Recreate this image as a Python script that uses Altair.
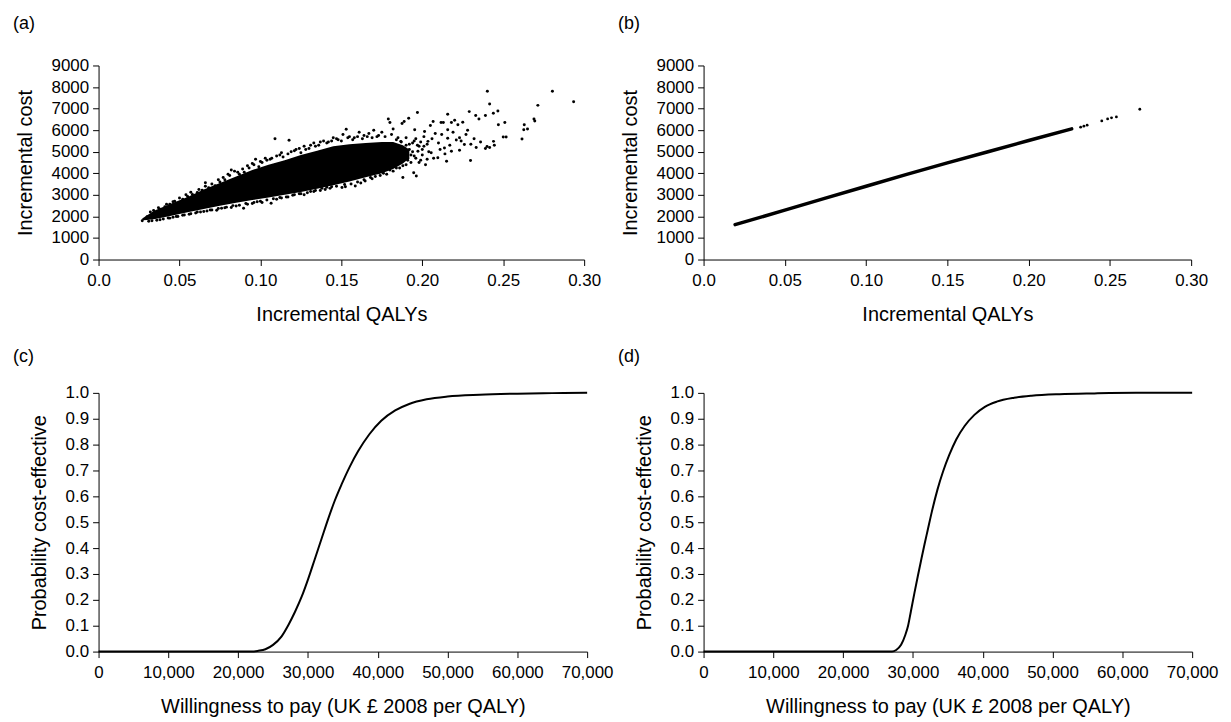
import altair as alt
import pandas as pd

FONT = "Liberation Sans"

# ---------------- Panel (a): probabilistic scatter ----------------
# Solid dense core of the cloud (lower / upper edge at given QALY values)
a_core_x = [0.027, 0.030, 0.035, 0.045, 0.055, 0.065, 0.075, 0.085, 0.095, 0.105,
            0.115, 0.125, 0.135, 0.145, 0.155, 0.165, 0.175, 0.182, 0.188, 0.192]
a_core_lo = [1820, 1830, 1880, 2030, 2190, 2340, 2490, 2630, 2760, 2880,
             3000, 3130, 3280, 3450, 3620, 3820, 4000, 4200, 4450, 4700]
a_core_hi = [1900, 2050, 2280, 2600, 2900, 3250, 3550, 3850, 4150, 4400,
             4600, 4850, 5050, 5250, 5350, 5400, 5450, 5450, 5300, 5100]

# Scattered simulations around the edges and in the sparse tail
a_pts_x = [
    # upper fringe
    0.030, 0.034, 0.038, 0.041, 0.044, 0.047, 0.052, 0.055, 0.058, 0.061, 0.064, 0.066,
    0.068, 0.072, 0.075, 0.078, 0.080, 0.082, 0.084, 0.087, 0.090, 0.093, 0.095, 0.097,
    0.099, 0.101, 0.104, 0.107, 0.109, 0.112, 0.114, 0.1177, 0.119, 0.122, 0.125, 0.127,
    0.130, 0.133, 0.136, 0.139, 0.142, 0.145, 0.148, 0.151, 0.153, 0.155, 0.158, 0.161,
    0.164, 0.167, 0.170, 0.172, 0.175, 0.179, 0.180, 0.182, 0.1875, 0.1888, 0.1916, 0.1953,
    0.197,
    0.032, 0.037, 0.042, 0.046, 0.050, 0.054, 0.057, 0.062, 0.066, 0.070, 0.074, 0.077,
    0.081, 0.086, 0.089, 0.092, 0.096, 0.100, 0.103, 0.106, 0.110, 0.113, 0.117, 0.121,
    0.124, 0.128, 0.131, 0.134, 0.137, 0.141, 0.144, 0.147, 0.150, 0.154, 0.157, 0.160,
    0.163, 0.166, 0.169, 0.173, 0.177, 0.181, 0.185,
    # lower fringe
    0.027, 0.031, 0.036, 0.040, 0.043, 0.046, 0.049, 0.053, 0.057, 0.060, 0.063, 0.067,
    0.070, 0.073, 0.076, 0.079, 0.082, 0.085, 0.0896, 0.092, 0.095, 0.098, 0.101, 0.1066,
    0.110, 0.113, 0.117, 0.120, 0.124, 0.127, 0.131, 0.134, 0.138, 0.141, 0.144, 0.1504,
    0.1525, 0.1586, 0.162, 0.1647, 0.168, 0.171, 0.173, 0.176, 0.180, 0.184, 0.188, 0.1947,
    0.1963,
    0.033, 0.038, 0.044, 0.048, 0.052, 0.056, 0.061, 0.065, 0.069, 0.074, 0.078, 0.083,
    0.087, 0.091, 0.096, 0.100, 0.104, 0.108, 0.112, 0.116, 0.121, 0.125, 0.129, 0.133,
    0.137, 0.140, 0.143, 0.147, 0.152, 0.156, 0.160, 0.164, 0.169, 0.174, 0.178, 0.182,
    0.186, 0.190,
    # diffuse right end of the cloud
    0.183, 0.184, 0.185, 0.186, 0.187, 0.188, 0.189, 0.190, 0.191, 0.192, 0.193, 0.194,
    0.195, 0.196, 0.197, 0.198, 0.199, 0.200, 0.201, 0.203,
    # sparse tail
    0.2402, 0.2804, 0.2935, 0.2416, 0.2714, 0.2467, 0.2439, 0.229, 0.2157, 0.233, 0.235, 0.239,
    0.269, 0.2695, 0.263, 0.265, 0.2627, 0.251, 0.247, 0.2616, 0.250, 0.2518, 0.244, 0.2445,
    0.240, 0.239, 0.2416, 0.2298, 0.2333, 0.226, 0.223, 0.221, 0.223, 0.218, 0.220, 0.222,
    0.225, 0.228, 0.2116, 0.213, 0.2067, 0.205, 0.2157, 0.2157, 0.2137, 0.218, 0.2096, 0.215,
    0.2055, 0.1867, 0.2014, 0.2035, 0.1973,
    0.186, 0.188, 0.190, 0.191, 0.192, 0.193, 0.194, 0.195, 0.196, 0.198, 0.199, 0.200,
    0.201, 0.202, 0.203, 0.204, 0.206, 0.207, 0.208, 0.210, 0.211, 0.212, 0.214, 0.217,
    0.219, 0.224, 0.227, 0.230, 0.232, 0.236,
]
a_pts_y = [
    1980, 2270, 2330, 2450, 2560, 2700, 2800, 2920, 3020, 3110, 3210, 3560,
    3330, 3420, 3600, 3700, 3950, 4150, 4100, 3950, 4050, 4250, 4450, 4650,
    4300, 4500, 4600, 4700, 5600, 4850, 4750, 5530, 5000, 5100, 4950, 5250,
    5150, 5400, 5300, 5500, 5450, 5650, 5550, 5800, 6040, 5700, 5650, 5900,
    5750, 5850, 6000, 5700, 5900, 6520, 6355, 6050, 6310, 6400, 6550, 6020,
    6815,
    2200, 2400, 2560, 2680, 2850, 3000, 3120, 3250, 3400, 3500, 3700, 3800,
    3900, 4050, 4200, 4350, 4400, 4550, 4700, 4650, 4800, 4950, 4900, 5050,
    5150, 5100, 5300, 5250, 5450, 5400, 5500, 5600, 5500, 5650, 5550, 5700,
    5600, 5700, 5650, 5750, 5700, 5800, 5650,
    1800, 1780, 1820, 1880, 1930, 1960, 2000, 2060, 2120, 2160, 2200, 2250,
    2300, 2290, 2380, 2430, 2410, 2480, 2380, 2560, 2600, 2680, 2650, 2610,
    2800, 2850, 2900, 2980, 3050, 3000, 3150, 3200, 3300, 3350, 3380, 3340,
    3370, 3415, 3550, 3645, 3800, 3850, 4030, 4000, 4150, 4250, 3800, 4030,
    3870,
    1800, 1850, 1920, 2000, 2050, 2100, 2200, 2230, 2300, 2370, 2400, 2500,
    2520, 2600, 2650, 2700, 2760, 2820, 2880, 2900, 3000, 3050, 3100, 3150,
    3200, 3250, 3300, 3400, 3480, 3500, 3600, 3700, 3750, 3900, 3950, 4100,
    4250, 4400,
    4900, 5550, 4500, 5150, 5450, 4350, 4950, 5650, 4600, 5350, 4850, 5000,
    5500, 4700, 5300, 4500, 5450, 4850, 5250, 4650,
    7810, 7810, 7320, 7213, 7150, 6890, 6784, 6860, 6738, 6680, 6520, 6680,
    6520, 6430, 6250, 6050, 6020, 6355, 6250, 5590, 5680, 5680, 5480, 5300,
    5240, 5150, 5200, 4590, 5200, 5330, 5070, 5540, 5650, 6355, 6460, 6250,
    6370, 6000, 6355, 6355, 6400, 6220, 6020, 5630, 5175, 5020, 4720, 4560,
    4950, 5480, 5940, 5480, 5020,
    5200, 5000, 5300, 4700, 5100, 4500, 5400, 4800, 5600, 5250, 4600, 5100,
    5700, 4400, 5350, 5000, 5600, 4700, 5850, 5400, 5100, 5800, 4900, 5300,
    5900, 5500, 5800, 5350, 5600, 5450,
]

# ---------------- Panel (b): deterministic-parameter scatter ----------------
b_line_x = [0.0194, 0.030, 0.050, 0.075, 0.100, 0.125, 0.150, 0.175, 0.200, 0.2265]
b_line_y = [1620, 1850, 2290, 2850, 3400, 3950, 4480, 5000, 5520, 6060]
b_pts_x = [0.232, 0.234, 0.236, 0.245, 0.2486, 0.251, 0.254, 0.2684]
b_pts_y = [6138, 6185, 6230, 6430, 6523, 6570, 6615, 6970]

# ---------------- Panels (c) and (d): acceptability curves ----------------
c_wtp = [0, 22000, 22900, 23900, 25000, 26200, 27200, 28150, 29100, 30050, 31000,
         31950, 32900, 33850, 34800, 36000, 37200, 38800, 40500, 42500, 44500,
         47000, 50000, 54600, 60000, 65000, 70000]
c_prob = [0, 0, 0.003, 0.009, 0.026, 0.058, 0.103, 0.154, 0.212, 0.282, 0.359,
          0.436, 0.513, 0.584, 0.645, 0.715, 0.775, 0.840, 0.892, 0.932, 0.957,
          0.975, 0.986, 0.993, 0.997, 0.999, 1.0]
d_wtp = [0, 27000, 27600, 28300, 28900, 29300, 29700, 30200, 30700, 31200, 31650,
         32100, 32700, 33500, 34300, 35200, 36200, 37400, 38800, 40300, 42000,
         44500, 47000, 51000, 56000, 62000, 70000]
d_prob = [0, 0, 0.006, 0.026, 0.064, 0.100, 0.155, 0.225, 0.292, 0.357, 0.414,
          0.468, 0.540, 0.625, 0.695, 0.760, 0.820, 0.872, 0.915, 0.946, 0.966,
          0.981, 0.989, 0.995, 0.998, 1.0, 1.0]

qaly_ticks = [0, 0.05, 0.10, 0.15, 0.20, 0.25, 0.30]
cost_ticks = [0, 1000, 2000, 3000, 4000, 5000, 6000, 7000, 8000, 9000]
wtp_ticks = [0, 10000, 20000, 30000, 40000, 50000, 60000, 70000]
prob_ticks = [0, 0.1, 0.2, 0.3, 0.4, 0.5, 0.6, 0.7, 0.8, 0.9, 1.0]

LBL = 17
TTL = 20


def panel_title(t, off):
    return alt.TitleParams(t, anchor="start", frame="group", dx=-86, offset=off,
                           font=FONT, fontSize=18, fontWeight="normal", color="black")


def x_qaly():
    return alt.X("x:Q", scale=alt.Scale(domain=[0, 0.30], nice=False, zero=False),
                 axis=alt.Axis(values=qaly_ticks, title="Incremental QALYs", labelPadding=7,
                               labelExpr="datum.value == 0 ? '0.0' : format(datum.value, '.2f')"))


def y_cost():
    return alt.Y("y:Q", scale=alt.Scale(domain=[0, 9000], nice=False),
                 axis=alt.Axis(values=cost_ticks, format="d", title="Incremental cost"))


# Panel (a)
a_core = pd.DataFrame({"x": a_core_x, "lo": a_core_lo, "y": a_core_hi})
a_pts = pd.DataFrame({"x": a_pts_x, "y": a_pts_y})
pa = alt.layer(
    alt.Chart(a_core).mark_area(color="black", interpolate="linear").encode(
        x=x_qaly(), y=y_cost(), y2="lo:Q"),
    alt.Chart(a_pts).mark_circle(color="black", size=9, opacity=1).encode(
        x=x_qaly(), y=y_cost()),
).properties(width=488, height=195, title=panel_title("(a)", 24))

# Panel (b)
b_line = pd.DataFrame({"x": b_line_x, "y": b_line_y})
b_pts = pd.DataFrame({"x": b_pts_x, "y": b_pts_y})
pb = alt.layer(
    alt.Chart(b_line).mark_line(color="black", strokeWidth=3.5, strokeCap="round").encode(
        x=x_qaly(), y=y_cost()),
    alt.Chart(b_pts).mark_circle(color="black", size=8, opacity=1).encode(
        x=x_qaly(), y=y_cost()),
).properties(width=490, height=195, title=panel_title("(b)", 24))


def ceac(wtp, prob, label):
    df = pd.DataFrame({"x": wtp, "y": prob})
    return alt.Chart(df).mark_line(color="black", strokeWidth=2, interpolate="monotone").encode(
        x=alt.X("x:Q", scale=alt.Scale(domain=[0, 70000], nice=False),
                axis=alt.Axis(values=wtp_ticks, format=",d", labelPadding=7,
                              title="Willingness to pay (UK \u00a3 2008 per QALY)")),
        y=alt.Y("y:Q", scale=alt.Scale(domain=[0, 1], nice=False),
                axis=alt.Axis(values=prob_ticks, format=".1f",
                              title="Probability cost-effective")),
    ).properties(width=491, height=260, title=panel_title(label, 18))


pc = ceac(c_wtp, c_prob, "(c)")
pd_ = ceac(d_wtp, d_prob, "(d)")

chart = alt.ConcatChart(
    concat=[pa, pb, pc, pd_], columns=2, align="each",
    spacing={"row": 24, "column": 5},
).configure_view(strokeWidth=0).configure_axis(
    grid=False, domainColor="black", tickColor="black", labelColor="black",
    titleColor="black", labelFont=FONT, titleFont=FONT, labelFontSize=LBL,
    titleFontSize=TTL, titleFontWeight="normal", tickSize=6, labelPadding=4,
    titlePadding=16, domainWidth=1, tickWidth=1, labelFlush=False, labelOverlap=False,
)

chart.save("out.html", embed_options={"renderer": "svg", "actions": False})
